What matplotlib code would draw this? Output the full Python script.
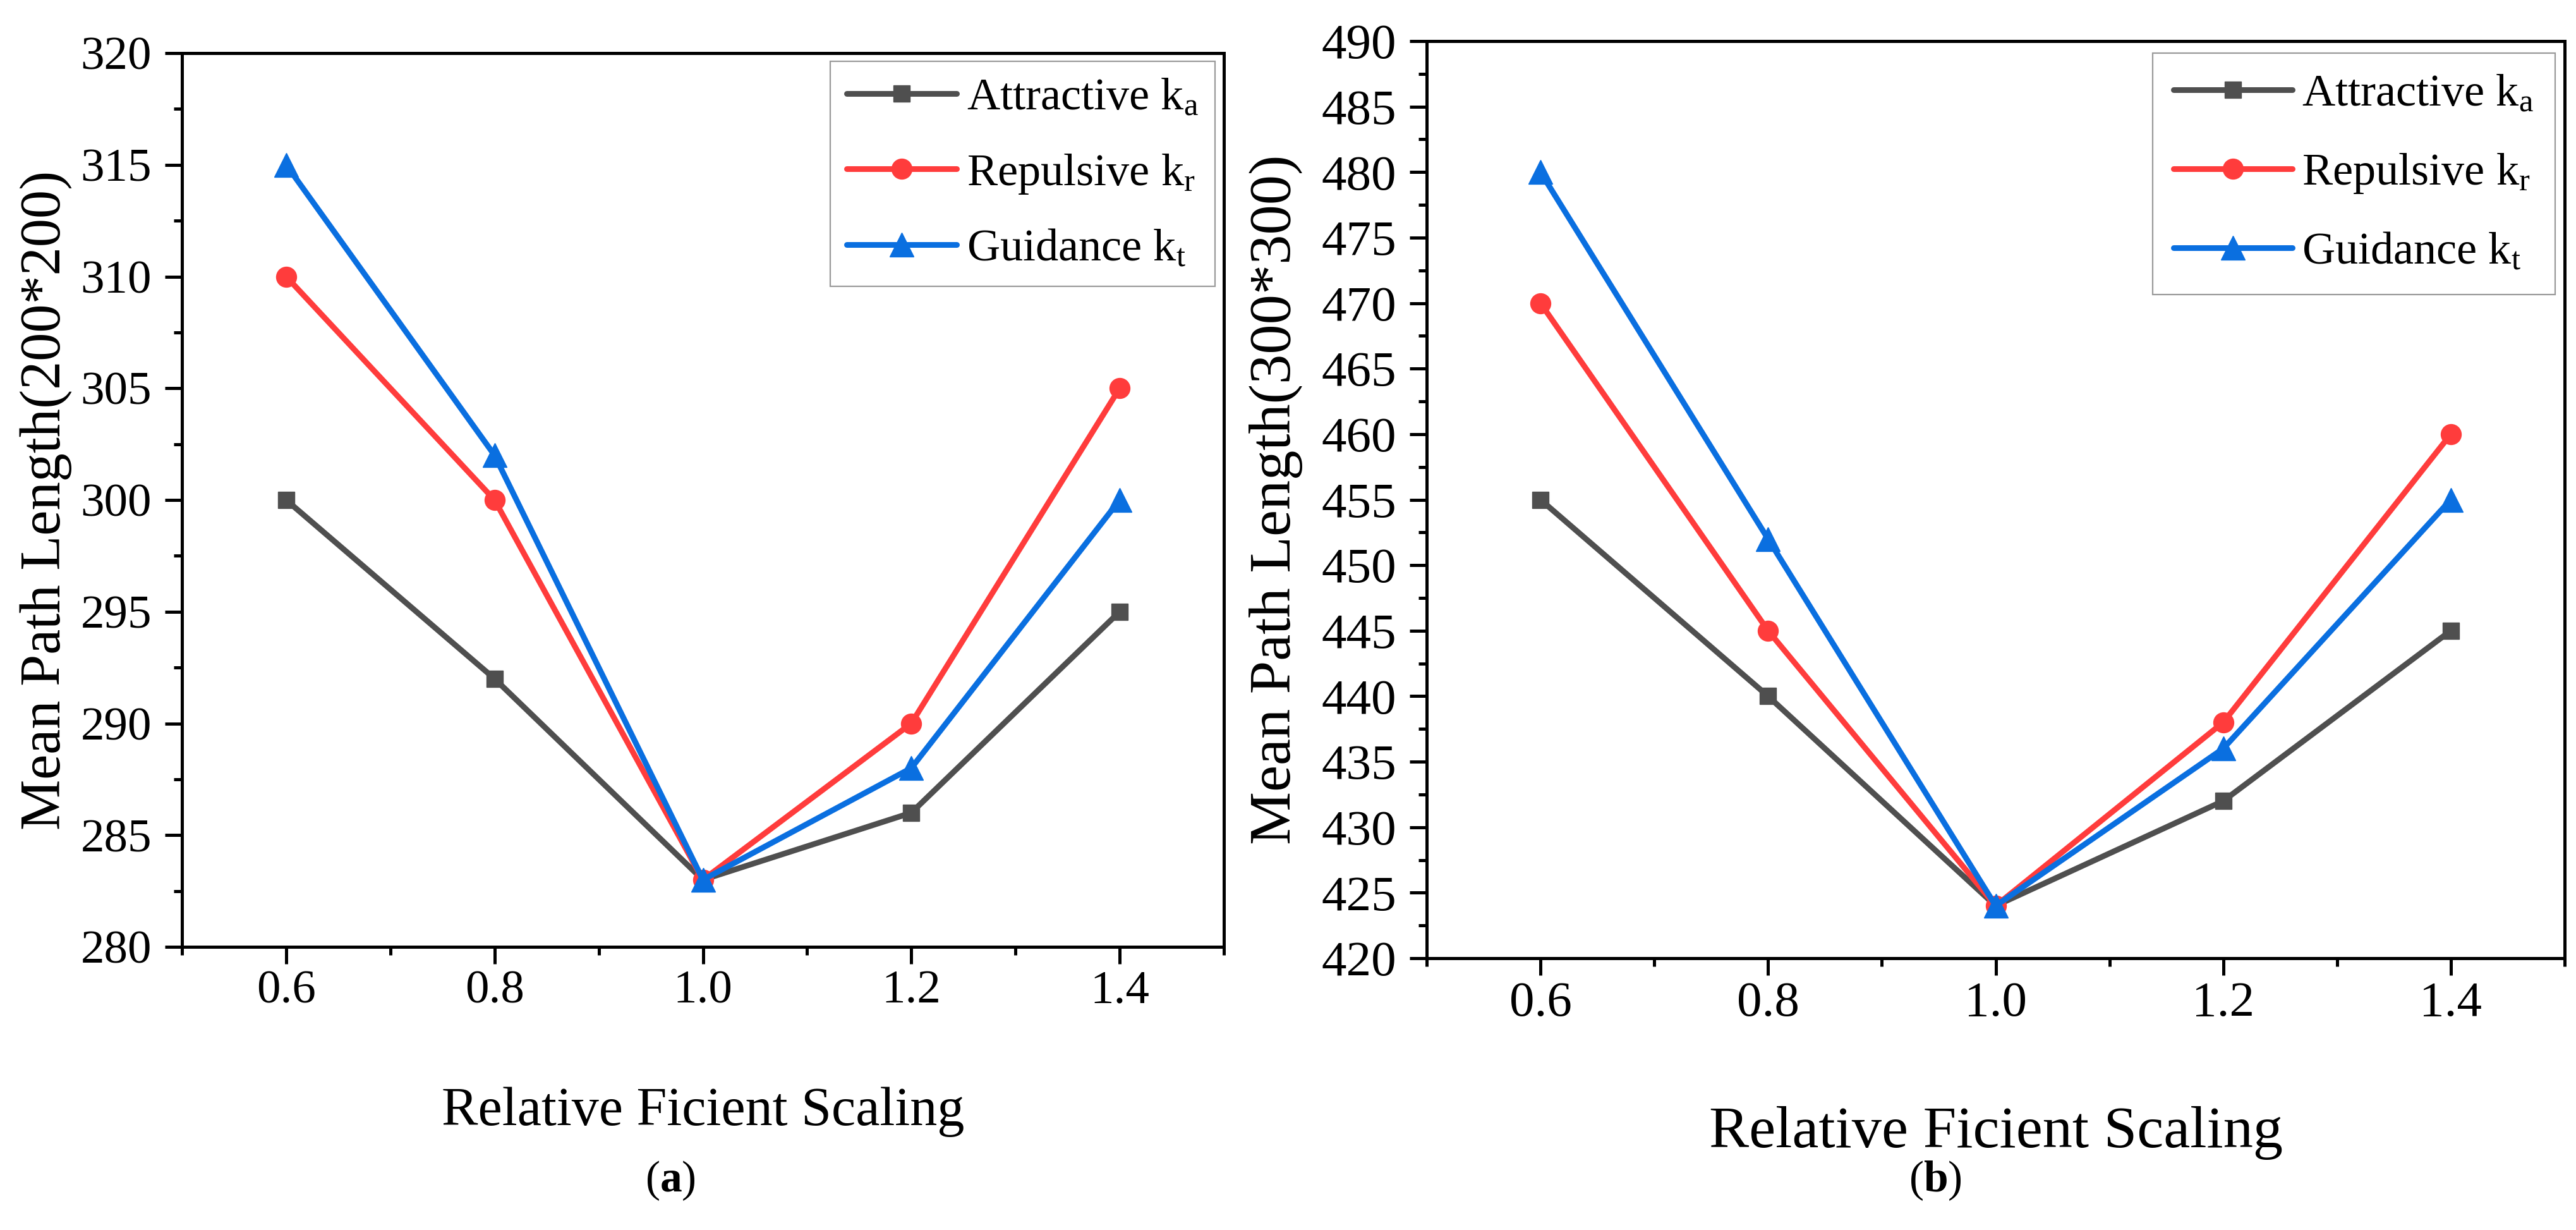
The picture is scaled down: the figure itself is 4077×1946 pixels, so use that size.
import matplotlib
matplotlib.use("Agg")
import matplotlib.pyplot as plt
from matplotlib.ticker import FixedLocator, MultipleLocator

plt.rcParams['font.family'] = ['Liberation Serif', 'DejaVu Serif']
plt.rcParams['mathtext.fontset'] = 'custom'
plt.rcParams['mathtext.rm'] = 'Liberation Serif'
plt.rcParams['mathtext.it'] = 'Liberation Serif:italic'
plt.rcParams['mathtext.bf'] = 'Liberation Serif:bold'

# ---- data ----
x_scaling = [0.6, 0.8, 1.0, 1.2, 1.4]
x_ticklabels = ["0.6", "0.8", "1.0", "1.2", "1.4"]
series_names = ["Attractive k$_\\mathregular{a}$", "Repulsive k$_\\mathregular{r}$", "Guidance k$_\\mathregular{t}$"]

a_attractive = [300, 292, 283, 286, 295]
a_repulsive = [310, 300, 283, 290, 305]
a_guidance = [315, 302, 283, 288, 300]

b_attractive = [455, 440, 424, 432, 445]
b_repulsive = [470, 445, 424, 438, 460]
b_guidance = [480, 452, 424, 436, 455]

xlabel_text = "Relative Ficient Scaling"
ylabel_a = "Mean Path Length(200*200)"
ylabel_b = "Mean Path Length(300*300)"

colors = ["#4f4f4f", "#ff3c3c", "#0a6fe0"]
markers = ["s", "o", "^"]
msizes = [19, 23, 27]

W, H = 4077, 1946
fig = plt.figure(figsize=(W / 100, H / 100), dpi=100)

def box(l, t, r, b):
    return [l / W, 1 - b / H, (r - l) / W, (b - t) / H]

ax1 = fig.add_axes(box(288, 84, 1937, 1498))
ax2 = fig.add_axes(box(2258, 65, 4059, 1516))

panels = [
    dict(ax=ax1, ys=[a_attractive, a_repulsive, a_guidance], ylim=(280, 320), ylab=ylabel_a,
         tfs=54, xlfs=62, ylfs=65, ylc=(-0.1304, 0.5), xlby=-0.1994, legpos=(0.9915, 0.9908),
         bp=0.36, hl=2.4, ls=0.72),
    dict(ax=ax2, ys=[b_attractive, b_repulsive, b_guidance], ylim=(420, 490), ylab=ylabel_b,
         tfs=57, xlfs=68, ylfs=68, ylc=(-0.1322, 0.5), xlby=-0.206, legpos=(0.9917, 0.987),
         bp=0.46, hl=2.6, ls=0.8),
]

for p in panels:
    ax = p['ax']
    for y, c, m, ms, name in zip(p['ys'], colors, markers, msizes, series_names):
        ax.plot(x_scaling, y, color=c, marker=m, markersize=ms, linewidth=6.5,
                label=name, solid_capstyle='round', clip_on=False, zorder=3)
    ax.set_xlim(0.5, 1.5)
    ax.set_ylim(*p['ylim'])
    ax.xaxis.set_major_locator(FixedLocator(x_scaling))
    ax.set_xticklabels(x_ticklabels)
    ax.xaxis.set_minor_locator(FixedLocator([0.5, 0.7, 0.9, 1.1, 1.3, 1.5]))
    ax.yaxis.set_major_locator(MultipleLocator(5))
    ax.yaxis.set_minor_locator(MultipleLocator(2.5))
    for s in ax.spines.values():
        s.set_linewidth(3.6)
    ax.tick_params(which='major', direction='out', length=19.5, width=3.6,
                   labelsize=p['tfs'], top=False, right=False)
    ax.tick_params(which='minor', direction='out', length=9.5, width=3.6,
                   top=False, right=False)
    ax.tick_params(axis='y', which='major', pad=15)
    ax.tick_params(axis='x', which='major', pad=7)
    ax.set_xlabel(xlabel_text, fontsize=p['xlfs'])
    ax.xaxis.label.set_va('baseline')
    ax.xaxis.set_label_coords(0.5, p['xlby'])
    ax.set_ylabel(p['ylab'], fontsize=p['ylfs'])
    ax.yaxis.label.set_va('center')
    ax.yaxis.set_label_coords(*p['ylc'])
    leg = ax.legend(loc='upper right', bbox_to_anchor=p['legpos'], fontsize=52,
                    frameon=True, fancybox=False, edgecolor='#808080',
                    borderaxespad=0, borderpad=p['bp'], handlelength=p['hl'],
                    handletextpad=0.22, labelspacing=p['ls'])
    leg.get_frame().set_linewidth(1.6)

fig.text(1061 / W, 1 - 1868 / H, "($\\mathbf{a}$)", fontsize=50, ha='center', va='center')
fig.text(3063 / W, 1 - 1868 / H, "($\\mathbf{b}$)", fontsize=50, ha='center', va='center')

fig.savefig("out.png", dpi=100)
